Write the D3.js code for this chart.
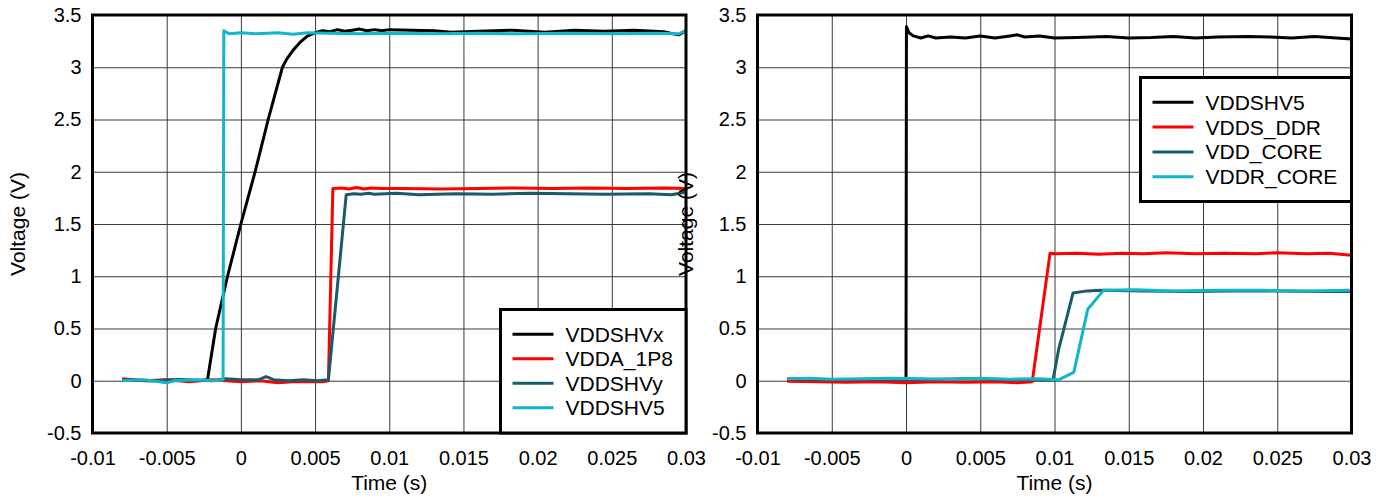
<!DOCTYPE html>
<html>
<head>
<meta charset="utf-8">
<script src="https://cdn.jsdelivr.net/npm/d3@7"></script>
<style>
  html, body { margin: 0; padding: 0; background: #fff; }
  svg { display: block; font-family: "Liberation Sans", Arial, sans-serif; }
</style>
</head>
<body>
<svg id="chart" width="1390" height="499"></svg>
<script>
// ---------- Data ----------
const xTicks = [-0.01, -0.005, 0, 0.005, 0.01, 0.015, 0.02, 0.025, 0.03];
const xTickLabels = ["-0.01", "-0.005", "0", "0.005", "0.01", "0.015", "0.02", "0.025", "0.03"];
const yTicks = [-0.5, 0, 0.5, 1, 1.5, 2, 2.5, 3, 3.5];
const yTickLabels = ["-0.5", "0", "0.5", "1", "1.5", "2", "2.5", "3", "3.5"];

const leftNames = ["VDDSHVx", "VDDA_1P8", "VDDSHVy", "VDDSHV5"];
const rightNames = ["VDDSHV5", "VDDS_DDR", "VDD_CORE", "VDDR_CORE"];
const seriesColors = ["#000000", "#ff0000", "#1a5a6a", "#12b5c9"];

// Left chart traces: [time (s), voltage (V)]
const leftVDDSHVx = [
  [-0.008, 0.01], [-0.006, 0.0], [-0.004, 0.01], [-0.003, 0.0], [-0.00225, 0.01],
  [-0.0017, 0.5], [-0.0009, 1.0], [0.0, 1.5], [0.00096, 2.0], [0.00184, 2.5],
  [0.0028, 3.0], [0.0031, 3.08], [0.0035, 3.16], [0.004, 3.24], [0.0045, 3.3],
  [0.005, 3.33], [0.0055, 3.35], [0.006, 3.34], [0.0065, 3.36], [0.007, 3.345],
  [0.0075, 3.355], [0.008, 3.365], [0.0085, 3.35], [0.009, 3.36], [0.0095, 3.35],
  [0.01, 3.36], [0.0115, 3.355], [0.013, 3.35], [0.0142, 3.335], [0.016, 3.345],
  [0.0183, 3.355], [0.0205, 3.335], [0.0225, 3.355], [0.0245, 3.345], [0.0265, 3.355],
  [0.0285, 3.34], [0.0295, 3.31], [0.03, 3.35]
];
const leftVDDA_1P8 = [
  [-0.008, 0.02], [-0.0065, 0.0], [-0.005, 0.01], [-0.0035, -0.01], [-0.002, 0.01],
  [0.0, -0.01], [0.0013, 0.0], [0.0025, -0.02], [0.0035, -0.01], [0.0045, -0.01],
  [0.0055, -0.01], [0.0059, 0.0], [0.0062, 1.84], [0.0068, 1.845], [0.0073, 1.835],
  [0.0078, 1.85], [0.0083, 1.835], [0.0088, 1.845], [0.0095, 1.84], [0.011, 1.84],
  [0.0135, 1.835], [0.016, 1.84], [0.0185, 1.845], [0.021, 1.84], [0.0235, 1.845],
  [0.026, 1.84], [0.0285, 1.845], [0.03, 1.84]
];
const leftVDDSHVy = [
  [-0.008, 0.01], [-0.006, 0.0], [-0.004, 0.01], [-0.002, 0.0], [-0.001, 0.02],
  [0.0, 0.01], [0.0012, 0.01], [0.0017, 0.04], [0.0022, 0.01], [0.0032, 0.0],
  [0.0042, 0.01], [0.0052, 0.0], [0.0059, 0.01], [0.0071, 1.78], [0.0076, 1.79],
  [0.0081, 1.785], [0.0086, 1.795], [0.009, 1.785], [0.0105, 1.795], [0.012, 1.78],
  [0.0145, 1.79], [0.017, 1.785], [0.0195, 1.795], [0.022, 1.79], [0.0245, 1.785],
  [0.0275, 1.79], [0.029, 1.78], [0.03, 1.805]
];
const leftVDDSHV5 = [
  [-0.008, 0.0], [-0.0065, 0.01], [-0.0055, -0.01], [-0.005, -0.02], [-0.0045, 0.0],
  [-0.003, 0.01], [-0.0018, 0.0], [-0.0012, 0.01], [-0.00115, 3.35], [-0.0008, 3.32],
  [0.0, 3.33], [0.001, 3.32], [0.0025, 3.33], [0.0035, 3.315], [0.0045, 3.33],
  [0.006, 3.325], [0.008, 3.32], [0.01, 3.325], [0.013, 3.32], [0.016, 3.325],
  [0.019, 3.32], [0.022, 3.325], [0.025, 3.32], [0.028, 3.325], [0.0295, 3.32],
  [0.03, 3.35]
];

// Right chart traces: [time (s), voltage (V)]
const rightVDDSHV5 = [
  [-0.008, 0.01], [-0.004, 0.01], [0.0, 0.01], [0.00003, 3.39], [0.0002, 3.33],
  [0.0005, 3.3], [0.001, 3.28], [0.0015, 3.3], [0.002, 3.28], [0.003, 3.29],
  [0.004, 3.28], [0.005, 3.3], [0.006, 3.28], [0.007, 3.3], [0.0075, 3.31],
  [0.008, 3.29], [0.009, 3.3], [0.0095, 3.29], [0.01, 3.28], [0.0115, 3.285],
  [0.0135, 3.295], [0.015, 3.28], [0.0165, 3.285], [0.018, 3.295], [0.0195, 3.28],
  [0.021, 3.29], [0.023, 3.295], [0.0245, 3.29], [0.026, 3.28], [0.0275, 3.295],
  [0.03, 3.27]
];
const rightVDDS_DDR = [
  [-0.008, -0.005], [-0.006, -0.01], [-0.004, -0.015], [-0.002, -0.01], [0.0, -0.02],
  [0.002, -0.01], [0.004, -0.015], [0.006, -0.01], [0.0075, -0.02], [0.0085, -0.01],
  [0.0097, 1.22], [0.0101, 1.215], [0.0115, 1.22], [0.013, 1.21], [0.0145, 1.22],
  [0.016, 1.215], [0.0175, 1.225], [0.0195, 1.215], [0.0215, 1.22], [0.0235, 1.215],
  [0.025, 1.225], [0.027, 1.215], [0.0285, 1.22], [0.03, 1.2]
];
const rightVDD_CORE = [
  [-0.008, 0.02], [-0.005, 0.01], [-0.002, 0.015], [0.001, 0.01], [0.004, 0.02],
  [0.007, 0.01], [0.0099, 0.01], [0.01028, 0.3], [0.01125, 0.84], [0.0122, 0.86],
  [0.0131, 0.865], [0.016, 0.86], [0.019, 0.855], [0.022, 0.86], [0.025, 0.86],
  [0.028, 0.855], [0.03, 0.855]
];
const rightVDDR_CORE = [
  [-0.008, 0.02], [-0.0065, 0.025], [-0.005, 0.015], [-0.003, 0.02], [-0.001, 0.025],
  [0.001, 0.02], [0.003, 0.015], [0.005, 0.025], [0.007, 0.015], [0.009, 0.02],
  [0.0103, 0.01], [0.0113, 0.08], [0.01224, 0.685], [0.0133, 0.865], [0.0155, 0.87],
  [0.018, 0.86], [0.021, 0.865], [0.024, 0.865], [0.027, 0.86], [0.03, 0.865]
];

const leftSeries = [leftVDDSHVx, leftVDDA_1P8, leftVDDSHVy, leftVDDSHV5];
const rightSeries = [rightVDDSHV5, rightVDDS_DDR, rightVDD_CORE, rightVDDR_CORE];

// ---------- Drawing ----------
const svg = d3.select("#chart");

function drawPanel(id, left, right, top, bottom, series, names, legendBox, yTitleX) {
  const g = svg.append("g");
  const x = d3.scaleLinear().domain([-0.01, 0.03]).range([left, right]);
  const y = d3.scaleLinear().domain([-0.5, 3.5]).range([bottom, top]);

  // grid
  g.append("g").attr("transform", `translate(0,${bottom})`)
    .call(d3.axisBottom(x).tickValues(xTicks).tickSize(-(bottom - top)).tickFormat(""))
    .call(a => a.select(".domain").remove())
    .call(a => a.selectAll("line").attr("stroke", "#3a3a3a").attr("stroke-width", 1));
  g.append("g").attr("transform", `translate(${left},0)`)
    .call(d3.axisLeft(y).tickValues(yTicks).tickSize(-(right - left)).tickFormat(""))
    .call(a => a.select(".domain").remove())
    .call(a => a.selectAll("line").attr("stroke", "#3a3a3a").attr("stroke-width", 1));

  // tick labels
  g.append("g").attr("transform", `translate(0,${bottom})`)
    .call(d3.axisBottom(x).tickValues(xTicks).tickSize(0).tickPadding(18)
      .tickFormat((d, i) => xTickLabels[i]))
    .call(a => a.select(".domain").remove())
    .call(a => a.selectAll("text").attr("font-size", 20).attr("fill", "#000")
      .attr("font-family", "'Liberation Sans', Arial, sans-serif"));
  g.append("g").attr("transform", `translate(${left},0)`)
    .call(d3.axisLeft(y).tickValues(yTicks).tickSize(0).tickPadding(11)
      .tickFormat((d, i) => yTickLabels[i]))
    .call(a => a.select(".domain").remove())
    .call(a => a.selectAll("text").attr("font-size", 20).attr("fill", "#000")
      .attr("font-family", "'Liberation Sans', Arial, sans-serif"));

  // clip
  svg.append("clipPath").attr("id", id)
    .append("rect").attr("x", left).attr("y", top)
    .attr("width", right - left).attr("height", bottom - top);

  const line = d3.line().x(d => x(d[0])).y(d => y(d[1]));
  const lg = g.append("g").attr("clip-path", `url(#${id})`);
  series.forEach((s, i) => {
    lg.append("path").datum(s)
      .attr("d", line)
      .attr("fill", "none")
      .attr("stroke", seriesColors[i])
      .attr("stroke-width", 3)
      .attr("stroke-linejoin", "round");
  });

  // frame
  g.append("rect").attr("x", left).attr("y", top)
    .attr("width", right - left).attr("height", bottom - top)
    .attr("fill", "none").attr("stroke", "#000").attr("stroke-width", 3);

  // legend
  const lgd = g.append("g");
  lgd.append("rect")
    .attr("x", legendBox.x0).attr("y", legendBox.y0)
    .attr("width", legendBox.x1 - legendBox.x0).attr("height", legendBox.y1 - legendBox.y0)
    .attr("fill", "#fff").attr("stroke", "#000").attr("stroke-width", 3);
  names.forEach((n, i) => {
    const cy = legendBox.firstRow + i * legendBox.rowStep;
    lgd.append("line")
      .attr("x1", legendBox.x0 + 12).attr("x2", legendBox.x0 + 53)
      .attr("y1", cy).attr("y2", cy)
      .attr("stroke", seriesColors[i]).attr("stroke-width", 3);
    lgd.append("text")
      .attr("x", legendBox.x0 + 65).attr("y", cy).attr("dy", "0.36em")
      .attr("font-size", 21).attr("fill", "#000")
      .text(n);
  });

  // axis titles
  g.append("text")
    .attr("x", (left + right) / 2).attr("y", 490)
    .attr("text-anchor", "middle").attr("font-size", 21).attr("fill", "#000")
    .text("Time (s)");
  g.append("text")
    .attr("transform", `translate(${yTitleX},${(top + bottom) / 2}) rotate(-90)`)
    .attr("dy", "0.35em")
    .attr("text-anchor", "middle").attr("font-size", 21).attr("fill", "#000")
    .text("Voltage (V)");
}

drawPanel("clipL", 92.5, 686, 15, 433, leftSeries, leftNames,
  { x0: 500.5, x1: 686, y0: 309.5, y1: 433, firstRow: 334.3, rowStep: 24.5 }, 18);
drawPanel("clipR", 757.5, 1351.5, 15, 433, rightSeries, rightNames,
  { x0: 1140.5, x1: 1351.5, y0: 77.5, y1: 201.5, firstRow: 102.3, rowStep: 24.8 }, 686);
</script>
</body>
</html>
